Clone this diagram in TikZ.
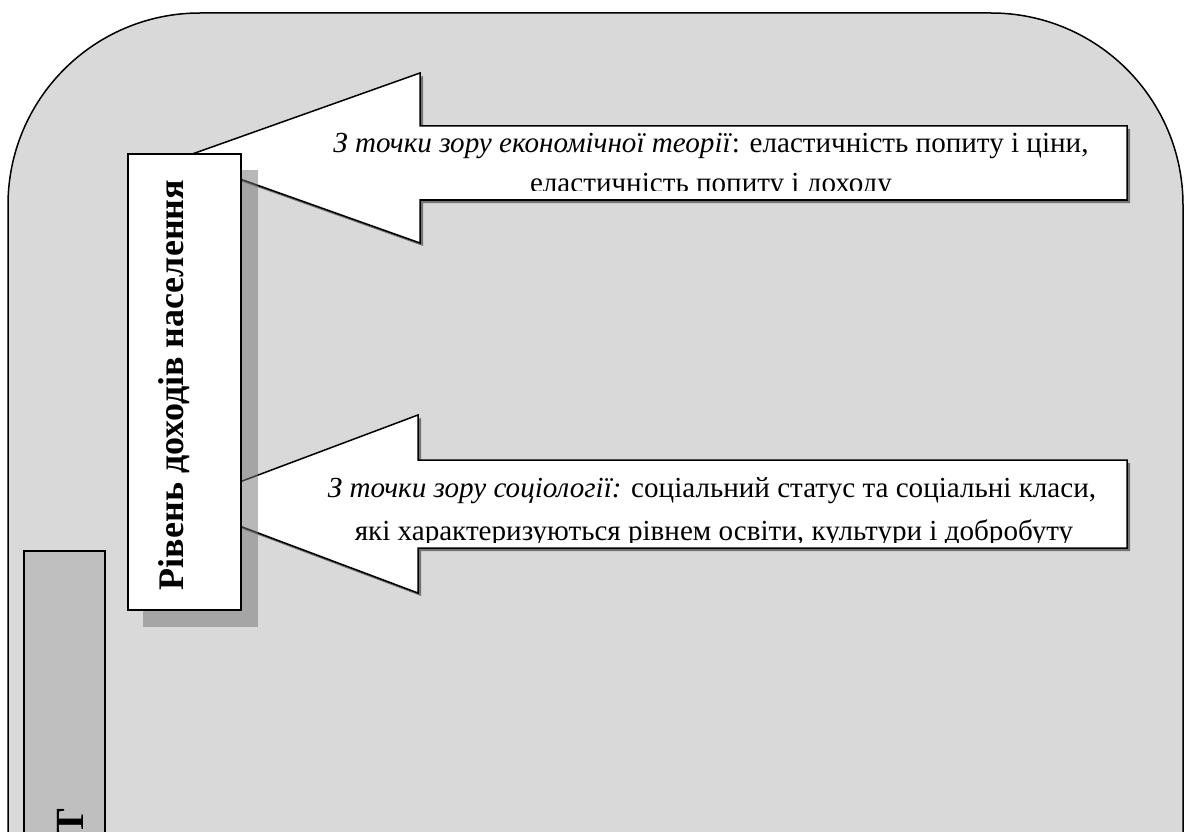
\documentclass[tikz,border=0pt]{standalone}
\usepackage{fontspec}
\setmainfont{Liberation Serif}
\definecolor{shapegray}{HTML}{D9D9D9}
\definecolor{boxgray}{HTML}{BFBFBF}
\definecolor{shadowgray}{HTML}{737373}
\tikzset{
  outline/.style={draw=black, line width=1.5pt},
  bigshape/.style={outline, fill=shapegray, rounded corners=192pt},
  sidebox/.style={outline, fill=boxgray, minimum width=81pt, minimum height=450pt, anchor=north west, inner sep=0pt},
  arrowshape/.style={outline, fill=white, line join=miter},
  arrowshadow/.style={fill=shadowgray, draw=none},
  boxshadow/.style={fill=shadowgray, fill opacity=0.5, draw=none},
  mainbox/.style={outline, fill=white, minimum width=113pt, minimum height=456pt, inner sep=0pt},
  bigtext/.style={font=\bfseries\fontsize{36}{42}\selectfont, rotate=90, anchor=base, inner sep=0pt},
  arrowtext/.style={font=\fontsize{29.1}{36}\selectfont, anchor=base, inner sep=0pt},
}
\begin{document}
\begin{tikzpicture}[x=1pt,y=-1pt]
\useasboundingbox (0,0) rectangle (1184,832);
\clip (0,0) rectangle (1184,832);
% large rounded background shape
\draw[bigshape] (8,1500) -- (8,13) -- (1183,13) -- (1183,1500) -- cycle;
% left grey box (cut by the bottom edge)
\node[sidebox] (side) at (23,550) {};
\node[bigtext, font=\bfseries\fontsize{40}{44}\selectfont] (sidetext) at (83,822) {Т};
% upper arrow
\fill[arrowshadow] (184,161) -- (423,76) -- (423,129) -- (1130,129) -- (1130,203) -- (423,203) -- (423,246) -- cycle;
\draw[arrowshape] (181,158) -- (420,73) -- (420,126) -- (1127,126) -- (1127,200) -- (420,200) -- (420,243) -- cycle;
\begin{scope}
\clip (300,128) rectangle (1125,191);
\node[arrowtext] (econ1) at (711,153) {\textit{З точки зору економічної теорії}: еластичність попиту і ціни,};
\node[arrowtext] (econ2) at (711,193) {еластичність попиту і доходу};
\end{scope}
% lower arrow
\fill[arrowshadow] (184,507) -- (421,418) -- (421,463) -- (1130,463) -- (1130,551) -- (421,551) -- (421,596) -- cycle;
\draw[arrowshape] (181,504) -- (418,415) -- (418,460) -- (1127,460) -- (1127,548) -- (418,548) -- (418,593) -- cycle;
\begin{scope}
\clip (300,462) rectangle (1125,542);
\node[arrowtext] (soc1) at (712,497) {\textit{З точки зору соціології:} соціальний статус та соціальні класи,};
\node[arrowtext] (soc2) at (714,540) {які характеризуються рівнем освіти, культури і добробуту};
\end{scope}
% main box with shadow
\fill[boxshadow] (143,170) rectangle (258,627);
\node[mainbox] (main) at (184.5,382) {};
\node[bigtext] (maintext) at (183,385) {Рівень доходів населення};
\end{tikzpicture}
\end{document}
